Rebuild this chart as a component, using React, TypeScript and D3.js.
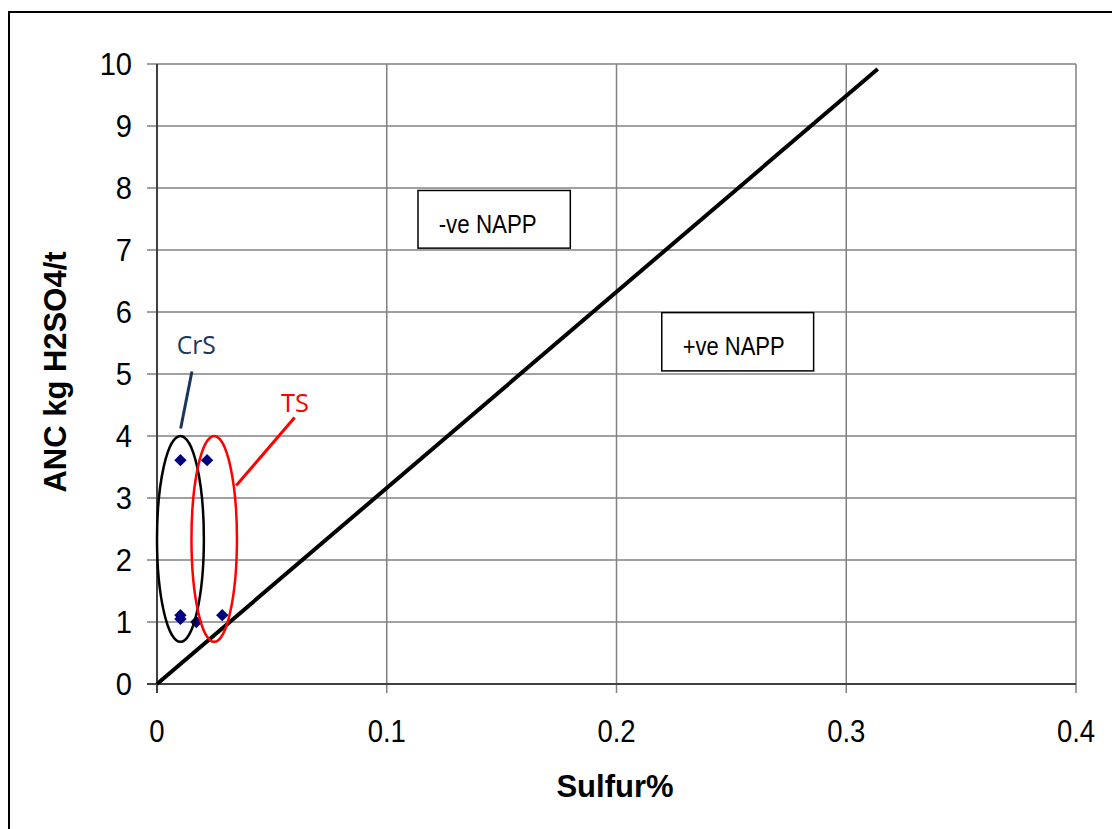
import React from 'react';
import * as d3 from 'd3';

// sample points (Sulfur %, ANC kg H2SO4/t)
const sulfur = [0.0102, 0.0218, 0.0102, 0.0102, 0.0171, 0.0284];
const anc = [3.61, 3.61, 1.11, 1.05, 1.0, 1.11];

// NAPP = 0 line
const lineSulfur = [0, 0.3137];
const lineAnc = [0, 9.92];

const xTicks = [0, 0.1, 0.2, 0.3, 0.4];
const yTicks = [0, 1, 2, 3, 4, 5, 6, 7, 8, 9, 10];

// grouping ellipses
const groupNames = ['CrS', 'TS'];
const groupColors = ['#000000', '#ff0000'];
const labelColors = ['#17365d', '#ff0000'];
const groupCx = [0.0102, 0.0249];
const groupCy = [2.34, 2.34];
const groupRx = [0.0102, 0.0099];
const groupRy = [1.66, 1.66];
const labelAt = [[0.0171, 5.32], [0.0601, 4.39]];
const leaderFrom = [[0.0152, 5.04], [0.0599, 4.30]];
const leaderTo = [[0.0103, 4.12], [0.0345, 3.2]];

// region boxes
const boxText = ['-ve NAPP', '+ve NAPP'];
const boxS = [[0.1136, 0.1799], [0.2197, 0.2858]];
const boxA = [[7.96, 7.03], [5.99, 5.05]];
const boxTextAt = [[0.1226, 7.27], [0.2288, 5.31]];

export default function App() {
  const W = 1112, H = 829;
  const x = d3.scaleLinear().domain([0, 0.4]).range([157, 1076]);
  const y = d3.scaleLinear().domain([0, 10]).range([684, 64]);

  const line = d3.line<number>().x(i => x(lineSulfur[i])).y(i => y(lineAnc[i]));
  const diamond = d3.symbol().type(d3.symbolSquare).size(76)();

  return (
    <svg width={W} height={H} style={{ position: 'absolute', left: 0, top: 0, background: '#fff' }}
      fontFamily="Liberation Sans, Arial, sans-serif">
      <rect x={9} y={12} width={W + 20} height={H + 20} fill="#fff" stroke="#000" strokeWidth={2} />

      {/* grid */}
      {yTicks.map(t => (
        <line key={'gy' + t} x1={x(0) - 10} x2={x(0.4)} y1={y(t)} y2={y(t)} stroke="#808080" strokeWidth={1.5} />
      ))}
      {xTicks.map(t => (
        <line key={'gx' + t} x1={x(t)} x2={x(t)} y1={y(10)} y2={y(0) + 9} stroke="#808080" strokeWidth={1.5} />
      ))}
      <line x1={x(0)} x2={x(0)} y1={y(10)} y2={y(0) + 9} stroke="#404040" strokeWidth={2} />
      <line x1={x(0) - 10} x2={x(0.4)} y1={y(0)} y2={y(0)} stroke="#404040" strokeWidth={2} />

      {/* tick labels */}
      {yTicks.map(t => (
        <text key={'ty' + t} transform={`translate(132,${y(t) + 11}) scale(0.97,1.04)`} fontSize={30}
          textAnchor="end" fill="#000">{t}</text>
      ))}
      {xTicks.map(t => (
        <text key={'tx' + t} transform={`translate(${x(t)},742) scale(0.86,1)`} fontSize={32}
          textAnchor="middle" fill="#000">{t}</text>
      ))}

      {/* axis titles */}
      <text x={615} y={797} fontSize={31} fontWeight="bold" textAnchor="middle">Sulfur%</text>
      <text transform="translate(66,372) rotate(-90)" fontSize={31} fontWeight="bold" textAnchor="middle">ANC kg H2SO4/t</text>

      {/* NAPP line */}
      <path d={line([0, 1]) || ''} fill="none" stroke="#000" strokeWidth={4} />

      {/* region boxes */}
      {boxText.map((t, i) => (
        <g key={t}>
          <rect x={x(boxS[i][0])} y={y(boxA[i][0])} width={x(boxS[i][1]) - x(boxS[i][0])}
            height={y(boxA[i][1]) - y(boxA[i][0])} fill="#fff" stroke="#000" strokeWidth={1.5} />
          <text x={x(boxTextAt[i][0])} y={y(boxTextAt[i][1])} fontSize={26}
            fontFamily="Liberation Sans Narrow, Arial Narrow, Liberation Sans, sans-serif"
            textLength={i === 0 ? 98 : 102} lengthAdjust="spacingAndGlyphs">{t}</text>
        </g>
      ))}

      {/* points */}
      {sulfur.map((s, i) => (
        <path key={'p' + i} d={diamond || ''} transform={`translate(${x(s)},${y(anc[i])}) rotate(45)`} fill="#000080" />
      ))}

      {/* ellipses and labels */}
      {groupNames.map((g, i) => (
        <g key={g}>
          <ellipse cx={x(groupCx[i])} cy={y(groupCy[i])} rx={x(groupRx[i]) - x(0)} ry={y(0) - y(groupRy[i])}
            fill="none" stroke={groupColors[i]} strokeWidth={2.5} />
          <line x1={x(leaderFrom[i][0])} y1={y(leaderFrom[i][1])} x2={x(leaderTo[i][0])} y2={y(leaderTo[i][1])}
            stroke={labelColors[i]} strokeWidth={3} />
          <text x={x(labelAt[i][0])} y={y(labelAt[i][1])} fontSize={26} textAnchor="middle"
            fontFamily="Open Sans, Noto Sans, sans-serif" fill={labelColors[i]}
            textLength={i === 0 ? 39 : 28} lengthAdjust="spacingAndGlyphs">{g}</text>
        </g>
      ))}
    </svg>
  );
}
